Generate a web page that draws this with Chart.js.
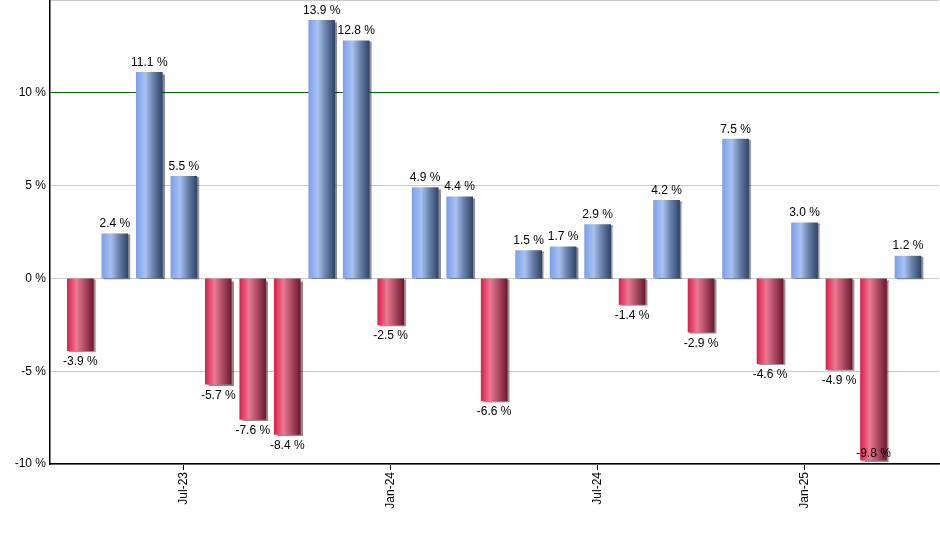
<!DOCTYPE html>
<html>
<head>
<meta charset="utf-8">
<script src="https://cdn.jsdelivr.net/npm/chart.js@4.4.1/dist/chart.umd.min.js"></script>
<style>
  html, body { margin: 0; padding: 0; background: #fff; }
  #wrap { width: 940px; height: 550px; }
</style>
</head>
<body>
<div id="wrap"><canvas id="myChart" width="940" height="550"></canvas></div>
<script>
// monthly returns, Apr-23 .. Apr-25
var months = ['Apr-23', 'May-23', 'Jun-23', 'Jul-23', 'Aug-23', 'Sep-23', 'Oct-23', 'Nov-23', 'Dec-23',
              'Jan-24', 'Feb-24', 'Mar-24', 'Apr-24', 'May-24', 'Jun-24', 'Jul-24', 'Aug-24', 'Sep-24',
              'Oct-24', 'Nov-24', 'Dec-24', 'Jan-25', 'Feb-25', 'Mar-25', 'Apr-25'];
var returns = [-3.9, 2.4, 11.1, 5.5, -5.7, -7.6, -8.4, 13.9, 12.8, -2.5, 4.9, 4.4, -6.6,
               1.5, 1.7, 2.9, -1.4, 4.2, -2.9, 7.5, -4.6, 3.0, -4.9, -9.8, 1.2];
var tickMonths = ['Jul-23', 'Jan-24', 'Jul-24', 'Jan-25'];
var yTicks = [-10, -5, 0, 5, 10, 15];

var FONT = 'Arial, "Liberation Sans", sans-serif';
var BAR_W = 26;

function barGradient(ctx) {
    var chart = ctx.chart;
    var v = returns[ctx.dataIndex];
    if (!chart.chartArea || !chart.scales.x) {
        return v >= 0 ? '#7b9fe6' : '#d83a5c';
    }
    var x = chart.scales.x.getPixelForValue(ctx.dataIndex);
    var g = chart.ctx.createLinearGradient(x - BAR_W / 2, 0, x + BAR_W / 2, 0);
    if (v >= 0) {
        g.addColorStop(0, '#7aa0ee');
        g.addColorStop(0.35, '#a9c1ef');
        g.addColorStop(0.65, '#6a82ad');
        g.addColorStop(1, '#314567');
    } else {
        g.addColorStop(0, '#e01f4b');
        g.addColorStop(0.35, '#e87a92');
        g.addColorStop(0.65, '#b04e66');
        g.addColorStop(1, '#6c1a2e');
    }
    return g;
}

// soft shadow under bars
var barShadow = {
    id: 'barShadow',
    beforeDatasetsDraw: function(chart) {
        var c = chart.ctx;
        c.save();
        c.shadowColor = 'rgba(0,0,0,0.45)';
        c.shadowOffsetX = 2;
        c.shadowOffsetY = 1;
        c.shadowBlur = 1;
    },
    afterDatasetsDraw: function(chart) {
        chart.ctx.restore();
    }
};

// value labels above / below each bar
var valueLabels = {
    id: 'valueLabels',
    afterDraw: function(chart) {
        var c = chart.ctx;
        var meta = chart.getDatasetMeta(0);
        var bottom = chart.chartArea.bottom;
        c.save();
        c.font = '12px ' + FONT;
        c.fillStyle = '#000';
        c.textAlign = 'center';
        meta.data.forEach(function(bar, i) {
            var v = returns[i];
            var txt = v.toFixed(1) + ' %';
            if (v >= 0) {
                c.textBaseline = 'bottom';
                c.fillText(txt, bar.x, bar.y - 4);
            } else if (bar.y + 20 > bottom) {
                c.textBaseline = 'bottom';
                c.fillText(txt, bar.x, bar.y - 1);
            } else {
                c.textBaseline = 'top';
                c.fillText(txt, bar.x, bar.y + 5);
            }
        });
        c.restore();
    }
};

var context = document.getElementById('myChart').getContext('2d');

new Chart(context, {
    type: 'bar',
    data: {
        datasets: [{
            data: returns.map(function(v, i) { return { x: i, y: v }; }),
            backgroundColor: barGradient,
            borderWidth: 0,
            barThickness: BAR_W
        }]
    },
    plugins: [barShadow, valueLabels],
    options: {
        responsive: false,
        animation: false,
        layout: { padding: { top: 0, right: 1, left: 0, bottom: 0 } },
        plugins: {
            legend: { display: false },
            tooltip: { enabled: false }
        },
        scales: {
            x: {
                type: 'linear',
                min: -0.88,
                max: 24.9,
                offset: false,
                bounds: 'data',
                afterBuildTicks: function(axis) {
                    axis.ticks = tickMonths.map(function(m) { return { value: months.indexOf(m) }; });
                },
                afterFit: function(axis) {
                    axis.height = 86;
                    axis.paddingLeft = 0;
                    axis.paddingRight = 0;
                },
                ticks: {
                    autoSkip: false,
                    maxRotation: 90,
                    minRotation: 90,
                    padding: 2,
                    color: '#000',
                    font: { size: 12, family: FONT },
                    callback: function(v) { return months[v]; }
                },
                grid: {
                    offset: false,
                    drawOnChartArea: false,
                    drawTicks: true,
                    tickLength: 6,
                    color: '#000'
                },
                border: { color: '#000', width: 1.5 }
            },
            y: {
                min: -10,
                max: 15,
                afterBuildTicks: function(axis) {
                    axis.ticks = yTicks.map(function(v) { return { value: v }; });
                },
                afterFit: function(axis) {
                    axis.width = 50;
                    axis.paddingTop = 0;
                    axis.paddingBottom = 0;
                },
                ticks: {
                    padding: 4,
                    color: '#000',
                    font: { size: 12, family: FONT },
                    callback: function(v) { return v === 15 ? '' : v + ' %'; }
                },
                grid: {
                    drawTicks: false,
                    lineWidth: 1,
                    color: function(ctx) {
                        return ctx.tick && ctx.tick.value === 10 ? '#006400' : '#c8c8c8';
                    }
                },
                border: { color: '#000', width: 1.5 }
            }
        }
    }
});
</script>
</body>
</html>
